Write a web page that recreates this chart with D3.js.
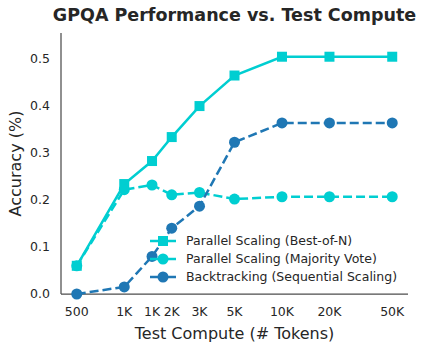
<!DOCTYPE html>
<html>
<head>
<meta charset="utf-8">
<script src="https://cdn.jsdelivr.net/npm/d3@7"></script>
<style>
  body { margin: 0; background: #fff; }
  text { font-family: "DejaVu Sans", sans-serif; fill: #262626; }
</style>
</head>
<body>
<svg id="chart" width="427" height="349"></svg>
<script>
// Data
const tokens = [500, 1000, 1500, 2000, 3000, 5000, 10000, 20000, 50000];
const tickLabels = ["500", "1K", "1K", "2K", "3K", "5K", "10K", "20K", "50K"];
const bestOfN = [0.06, 0.234, 0.283, 0.334, 0.400, 0.465, 0.505, 0.505, 0.505];
const majorityVote = [0.06, 0.222, 0.232, 0.211, 0.216, 0.202, 0.207, 0.207, 0.207];
const backtracking = [0.0, 0.015, 0.08, 0.14, 0.187, 0.323, 0.364, 0.364, 0.364];
const yTicks = [0.0, 0.1, 0.2, 0.3, 0.4, 0.5];

const series = [
  {name: "Parallel Scaling (Best-of-N)", values: bestOfN, color: "#00ced1", dash: null, marker: "square"},
  {name: "Parallel Scaling (Majority Vote)", values: majorityVote, color: "#00ced1", dash: "9,4", marker: "circle"},
  {name: "Backtracking (Sequential Scaling)", values: backtracking, color: "#1f77b4", dash: "9,4", marker: "circle"}
];

const margin = {top: 33, right: 19, bottom: 55, left: 61};
const width = 427 - margin.left - margin.right;
const height = 349 - margin.top - margin.bottom;

const svg = d3.select("#chart");
const g = svg.append("g").attr("transform", `translate(${margin.left},${margin.top})`);

// Scales (matplotlib-like 5% margins on log x)
const lo = Math.log10(500) - 0.1, hi = Math.log10(50000) + 0.1;
const x = d3.scaleLog().domain([10 ** lo, 10 ** hi]).range([0, width]);
const y = d3.scaleLinear().domain([0, 0.5555]).range([height, 0]);

// Axes spines
g.append("line").attr("x1", 0).attr("x2", 0).attr("y1", 0).attr("y2", height)
  .attr("stroke", "#4d4d4d").attr("stroke-width", 1.25);
g.append("line").attr("x1", 0).attr("x2", width).attr("y1", height).attr("y2", height)
  .attr("stroke", "#4d4d4d").attr("stroke-width", 1.25);

// Tick labels
g.selectAll(".ytick").data(yTicks).enter().append("text")
  .attr("x", -11).attr("y", d => y(d)).attr("dy", "0.35em")
  .attr("text-anchor", "end").style("font-size", "12.5px")
  .text(d => d.toFixed(1));

g.selectAll(".xtick").data(tokens).enter().append("text")
  .attr("x", d => x(d)).attr("y", height + 22)
  .attr("text-anchor", "middle").style("font-size", "12.5px")
  .text((d, i) => tickLabels[i]);

// Labels
svg.append("text").attr("x", margin.left + width / 2).attr("y", 21)
  .attr("text-anchor", "middle").style("font-size", "17.5px").style("font-weight", "bold")
  .text("GPQA Performance vs. Test Compute");
svg.append("text").attr("x", margin.left + width / 2).attr("y", 339)
  .attr("text-anchor", "middle").style("font-size", "16px")
  .text("Test Compute (# Tokens)");
svg.append("text").attr("transform", `translate(21,${margin.top + height / 2}) rotate(-90)`)
  .attr("text-anchor", "middle").style("font-size", "16px")
  .text("Accuracy (%)");

// Lines
const line = d3.line().x(d => x(d[0])).y(d => y(d[1]));

function drawMarker(sel, s, cx, cy) {
  if (s.marker === "square") {
    sel.append("rect").attr("x", cx - 5).attr("y", cy - 5).attr("width", 10).attr("height", 10)
      .attr("fill", s.color);
  } else {
    sel.append("circle").attr("cx", cx).attr("cy", cy).attr("r", 5.5).attr("fill", s.color);
  }
}

series.forEach(s => {
  const pts = tokens.map((t, i) => [t, s.values[i]]);
  g.append("path").datum(pts)
    .attr("d", line)
    .attr("fill", "none")
    .attr("stroke", s.color)
    .attr("stroke-width", 2.5)
    .attr("stroke-dasharray", s.dash);
  const mg = g.append("g");
  pts.forEach(p => drawMarker(mg, s, x(p[0]), y(p[1])));
});

// Legend
const legend = svg.append("g").attr("transform", "translate(150,241)");
series.forEach((s, i) => {
  const row = legend.append("g").attr("transform", `translate(0,${i * 18})`);
  row.append("line").attr("x1", 0).attr("x2", 26).attr("y1", 0).attr("y2", 0)
    .attr("stroke", s.color).attr("stroke-width", 2.5);
  drawMarker(row, s, 13, 0);
  row.append("text").attr("x", 36).attr("y", 0).attr("dy", "0.35em")
    .style("font-size", "12.5px").text(s.name);
});
</script>
</body>
</html>
